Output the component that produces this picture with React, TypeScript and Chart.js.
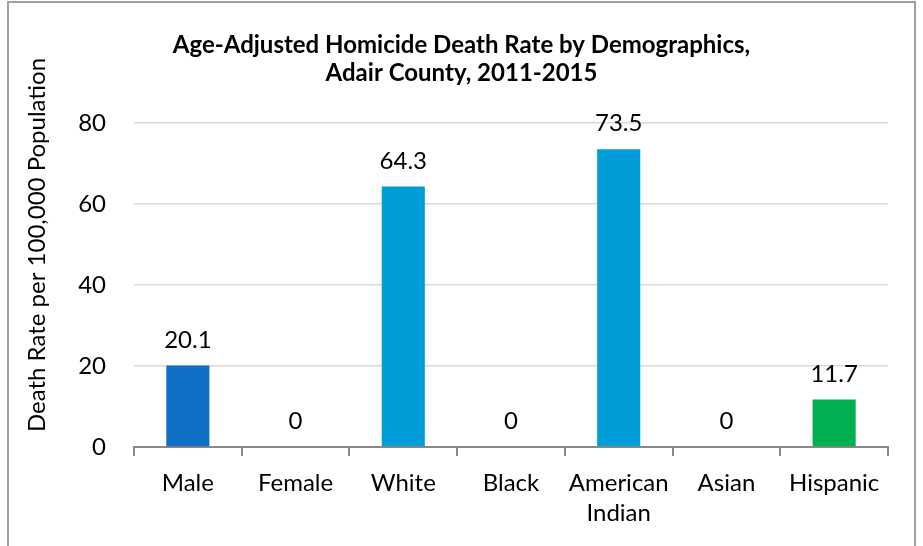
import { useEffect, useRef } from 'react';
import { Chart, registerables } from 'chart.js';

Chart.register(...registerables);

const categories: (string | string[])[] = ['Male', 'Female', 'White', 'Black', ['American', 'Indian'], 'Asian', 'Hispanic'];
const rates = [20.1, 0, 64.3, 0, 73.5, 0, 11.7];
const barColors = ['#0F6FC6', '#0F6FC6', '#009DD9', '#009DD9', '#009DD9', '#009DD9', '#00B050'];
const yTickMin = 0;
const yTickMax = 80;
const yTickStep = 20;
const titleLines = ['Age-Adjusted Homicide Death Rate by Demographics,', 'Adair County, 2011-2015'];
const yAxisTitle = 'Death Rate per 100,000 Population';

const FONT = 'Lato';

const valueLabels = {
  id: 'valueLabels',
  afterDatasetsDraw(chart: any) {
    const ctx = chart.ctx;
    const meta = chart.getDatasetMeta(0);
    ctx.save();
    ctx.font = `24px ${FONT}`;
    ctx.fillStyle = '#000';
    ctx.textAlign = 'center';
    ctx.textBaseline = 'alphabetic';
    meta.data.forEach((bar: any, i: number) => {
      const v = chart.data.datasets[0].data[i];
      ctx.fillText(String(v), bar.x, bar.y - 18);
    });
    ctx.restore();
  },
};

const yTitle = {
  id: 'yTitle',
  afterDraw(chart: any) {
    const ctx = chart.ctx;
    const area = chart.chartArea;
    ctx.save();
    ctx.translate(area.left - 97, (area.top + area.bottom) / 2 - 40);
    ctx.rotate(-Math.PI / 2);
    ctx.font = `24px ${FONT}`;
    ctx.fillStyle = '#000';
    ctx.textAlign = 'center';
    ctx.textBaseline = 'middle';
    ctx.fillText(yAxisTitle, 0, 0);
    ctx.restore();
  },
};

export default function App() {
  const ref = useRef<HTMLCanvasElement>(null);
  useEffect(() => {
    const chart = new Chart(ref.current!, {
      type: 'bar',
      data: {
        labels: categories as any,
        datasets: [
          {
            data: rates,
            backgroundColor: barColors,
            barPercentage: 0.4,
            categoryPercentage: 1,
          },
        ],
      },
      options: {
        responsive: false,
        animation: false,
        layout: { padding: { left: 0, right: 0, top: 0, bottom: 0 } },
        plugins: {
          legend: { display: false },
          tooltip: { enabled: false },
          title: {
            display: true,
            text: titleLines,
            color: '#000',
            font: { family: FONT, size: 24, weight: 'bold', lineHeight: 28 / 24 },
            padding: { top: 31, bottom: 36 },
          },
        },
        scales: {
          x: {
            afterFit: (s: any) => {
              s.height = 99;
            },
            grid: {
              display: true,
              drawOnChartArea: false,
              drawTicks: true,
              tickLength: 9,
              color: '#898989',
              lineWidth: 2,
            },
            border: { display: true, color: '#898989', width: 2 },
            ticks: {
              color: '#000',
              padding: 12,
              font: { family: FONT, size: 24, lineHeight: 1.25 },
              maxRotation: 0,
              autoSkip: false,
            },
          },
          y: {
            min: yTickMin,
            max: yTickMax,
            afterFit: (s: any) => {
              s.width = 134;
            },
            grid: {
              drawTicks: false,
              color: (c: any) => (c.tick && c.tick.value === 0 ? 'rgba(0,0,0,0)' : '#d9d9d9'),
              lineWidth: 1.5,
            },
            border: { display: false },
            ticks: {
              stepSize: yTickStep,
              color: '#000',
              padding: 28,
              font: { family: FONT, size: 24 },
            },
          },
          yRight: {
            position: 'right',
            display: true,
            afterFit: (s: any) => {
              s.width = 35;
            },
            grid: { display: false, drawTicks: false },
            border: { display: false },
            ticks: { display: false },
          },
        },
      },
      plugins: [valueLabels, yTitle],
    });
    return () => chart.destroy();
  }, []);

  return (
    <div
      style={{
        position: 'fixed',
        left: 0,
        top: 0,
        width: 923,
        height: 546,
        overflow: 'hidden',
        background: '#fff',
      }}
    >
      <canvas ref={ref} width={923} height={546} style={{ display: 'block', position: 'absolute', left: 0, top: 0 }} />
      <div
        style={{
          position: 'absolute',
          left: 7,
          top: 1,
          width: 909,
          height: 620,
          boxSizing: 'border-box',
          border: '2px solid #a0a0a0',
          pointerEvents: 'none',
        }}
      />
    </div>
  );
}
